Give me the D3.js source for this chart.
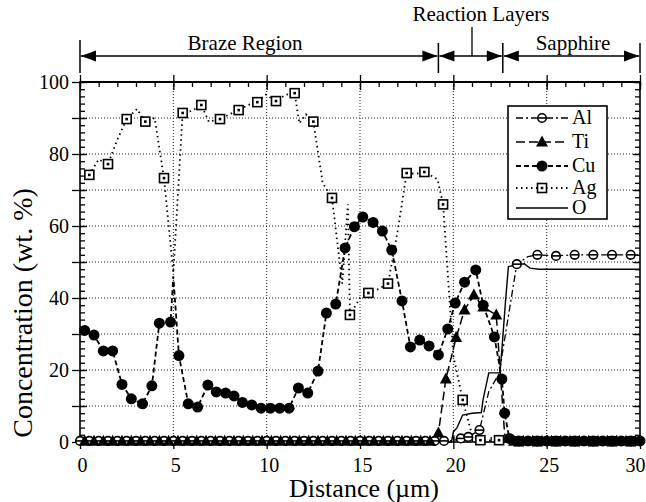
<!DOCTYPE html>
<html><head><meta charset="utf-8">
<script src="https://cdn.jsdelivr.net/npm/d3@7"></script>
</head><body style="margin:0;background:#fff">
<svg id="chart" width="646" height="502" font-family="Liberation Serif" style="display:block;font-family:'Liberation Serif'"></svg>
<script>
// ---------- data ----------
const xTicks = [0,5,10,15,20,25,30];
const yTicks = [0,20,40,60,80,100];
const regionNames = ["Braze Region","Reaction Layers","Sapphire"];
const regionBounds = [0,19.2,22.65,30];
const reactionPointer = 21.0;
const seriesNames = ["Al","Ti","Cu","Ag","O"];

const alDist = [0,0.5,1,1.5,2,2.5,3,3.5,4,4.5,5,5.5,6,6.5,7,7.5,8,8.5,9,9.5,10,10.5,11,11.5,12,12.5,13,13.5,14,14.5,15,15.5,16,16.5,17,17.5,18,18.5,19,19.5,20,20.4,20.8,21.4,21.9,22.45,23.4,24,24.5,25.5,26.5,27.5,28.5,29.5,30];
const alConc = [0.3,0.3,0.3,0.3,0.3,0.3,0.3,0.3,0.3,0.3,0.3,0.3,0.3,0.3,0.3,0.3,0.3,0.3,0.3,0.3,0.3,0.3,0.3,0.3,0.3,0.3,0.3,0.3,0.3,0.3,0.3,0.3,0.3,0.3,0.3,0.3,0.3,0.3,0.3,0.3,0.4,1,1.4,3.3,14,19,49.4,51.5,52,51.7,52,52,52,52,52];
const alMark = [1,1,1,1,1,1,1,1,1,1,1,1,1,1,1,1,1,1,1,1,1,1,1,1,1,1,1,1,1,1,1,1,1,1,1,1,1,1,1,1,0,1,1,1,0,0,1,0,1,1,1,1,1,1,0];

const tiDist = [0.25,0.75,1.25,1.75,2.25,2.75,3.25,3.75,4.25,4.75,5.25,5.75,6.25,6.75,7.25,7.75,8.25,8.75,9.25,9.75,10.25,10.75,11.25,11.75,12.25,12.75,13.25,13.75,14.25,14.75,15.25,15.75,16.25,16.75,17.25,17.75,18.25,18.75,19.2,19.6,20.15,20.6,21.1,21.6,22.3,22.75,23.25,23.75,24.25,24.75,25.25,25.75,26.25,26.75,27.25,27.75,28.25,28.75,29.25,29.75];
const tiConc = [0.2,0.2,0.2,0.2,0.2,0.2,0.2,0.2,0.2,0.2,0.2,0.2,0.2,0.2,0.2,0.2,0.2,0.2,0.2,0.2,0.2,0.2,0.2,0.2,0.2,0.2,0.2,0.2,0.2,0.2,0.2,0.2,0.2,0.2,0.2,0.2,0.2,0.2,2.5,17.5,29,36.7,40.8,37.5,35.3,2,0.2,0.2,0.2,0.2,0.2,0.2,0.2,0.2,0.2,0.2,0.2,0.2,0.2,0.2];
const tiMark = [1,1,1,1,1,1,1,1,1,1,1,1,1,1,1,1,1,1,1,1,1,1,1,1,1,1,1,1,1,1,1,1,1,1,1,1,1,1,1,1,1,1,1,1,1,0,1,1,1,1,1,1,1,1,1,1,1,1,1,1];

const cuDist = [0.25,0.75,1.25,1.75,2.25,2.75,3.35,3.85,4.25,4.85,5.0,5.3,5.8,6.3,6.85,7.3,7.8,8.25,8.7,9.2,9.7,10.2,10.7,11.2,11.7,12.2,12.75,13.2,13.7,14.2,14.7,15.15,15.7,16.2,16.7,17.25,17.7,18.2,18.7,19.2,19.7,20.1,20.6,21.2,21.6,22.2,22.6,22.75,23.0,23.5,24,24.5,25,25.5,26,26.5,27,27.5,28,28.5,29,29.5,30];
const cuConc = [31,29.7,25.3,25.3,16,12,10.6,15.6,33,33.3,46,24,10.6,9.7,15.8,13.9,13.6,12.8,11,10.3,9.4,9.4,9.4,9.4,15,13.6,19.7,35.8,38.3,53.9,59.8,62.5,61,58.6,53.3,39.2,26.4,28.3,26.7,24.2,31.4,38.6,44.4,47.8,38,29.2,17.5,8,1,0.3,0.3,0.3,0.3,0.3,0.3,0.3,0.3,0.3,0.3,0.3,0.3,0.3,0.3];
const cuMark = [1,1,1,1,1,1,1,1,1,1,0,1,1,1,1,1,1,1,1,1,1,1,1,1,1,1,1,1,1,1,1,1,1,1,1,1,1,1,1,1,1,1,1,1,1,1,1,1,1,1,1,1,1,1,1,1,1,1,1,1,1,1,1];

const agDist = [0.5,1,1.5,2,2.5,3.05,3.5,4,4.5,5,5.5,6,6.5,6.9,7.5,8,8.5,9,9.5,9.95,10.5,11,11.5,11.75,12.1,12.5,13,13.5,14.05,14.35,14.46,15,15.45,16,16.5,17,17.5,18,18.45,19.15,19.45,20,20.5,21,21.45,22,22.45,23,23.5,24.5,25.5,26.5,27.5,28.5,29.5];
const agConc = [74.2,78.5,77.2,84,89.7,92.5,89,90,73.3,47,91.4,92,93.6,89,89.7,91,92.2,93.6,94.4,96.5,94.7,96.4,96.9,88.5,91,89,72,67.8,44,66,35.3,40,41.4,42.5,44,58,74.7,74.5,75,73,66,24,11.7,2,0.5,0.4,0.5,0.3,0.2,0.2,0.2,0.2,0.2,0.2,0.2];
const agMark = [1,0,1,0,1,0,1,0,1,0,1,0,1,0,1,0,1,0,1,0,1,0,1,0,0,1,0,1,0,0,1,0,1,0,1,0,1,0,1,0,1,0,1,0,1,0,1,0,1,1,1,1,1,1,1];

const oDist = [0,19.9,20,20.2,20.5,21,21.5,21.6,21.9,22.5,22.6,22.8,22.95,23.4,23.8,24.1,24.6,30];
const oConc = [0,0,2.8,4,7.5,8,8.2,12,19.2,19.2,25.6,39.4,48.7,49.2,49.5,48.3,48,48];

// ---------- chart ----------
const FONT = "Liberation Serif";
const svg = d3.select("#chart");
const x = d3.scaleLinear().domain([0,30]).range([80,640]);
const y = d3.scaleLinear().domain([0,100]).range([442,82]);

function txt(g){ return g.append("text").attr("font-family",FONT).style("font-family",FONT).attr("fill","#000"); }

const styles = {
  Al:{dash:"7,3,2,3", w:1.3, marker:"alc"},
  Ti:{dash:"9,4", w:1.5, marker:"tri"},
  Cu:{dash:"5,3", w:1.8, marker:"dot"},
  Ag:{dash:"1.5,3.5", w:1.8, marker:"sq"},
  O:{dash:null, w:1.4, marker:null}
};
const build = (d,c,m) => d.map((v,i)=>({x:v,y:c[i],m:m?m[i]:0}));
const series = {
  Al: build(alDist, alConc, alMark),
  Ti: build(tiDist, tiConc, tiMark),
  Cu: build(cuDist, cuConc, cuMark),
  Ag: build(agDist, agConc, agMark),
  O:  build(oDist, oConc, null)
};

// grid
const grid = svg.append("g").attr("stroke","#222").attr("stroke-width",1).attr("stroke-dasharray","1,2");
grid.selectAll("line.gx").data([5,10,15,20,25]).join("line")
  .attr("x1",d=>x(d)).attr("x2",d=>x(d)).attr("y1",y(100)).attr("y2",y(0));
grid.selectAll("line.gy").data([10,20,30,40,50,60,70,80,90]).join("line")
  .attr("y1",d=>y(d)).attr("y2",d=>y(d)).attr("x1",x(0)).attr("x2",x(30));

// axes
const minorX = d3.range(0,31,1), minorY = d3.range(0,101,2);
const majX = xTicks, majY = d3.range(0,101,10);
function styleAxis(g){ g.attr("font-family",FONT); g.selectAll("path.domain").remove(); g.selectAll("line").attr("stroke","#000").attr("stroke-width",1.3); }
// bottom
svg.append("g").attr("transform",`translate(0,${y(0)})`)
  .call(d3.axisBottom(x).tickValues(majX).tickSize(7).tickPadding(9).tickFormat(d3.format("d")))
  .call(styleAxis).call(g=>g.selectAll("text").attr("font-size",20).attr("fill","#000").attr("font-family",FONT).style("font-family",FONT)
    .attr("dx",d=>d===30?-5:2));
svg.append("g").attr("transform",`translate(0,${y(0)})`)
  .call(d3.axisTop(x).tickValues(minorX).tickSize(5).tickFormat(""))
  .call(styleAxis);
svg.append("g").attr("transform",`translate(0,${y(0)})`)
  .call(d3.axisTop(x).tickValues(majX).tickSize(7).tickFormat(""))
  .call(styleAxis);
// top
svg.append("g").attr("transform",`translate(0,${y(100)})`)
  .call(d3.axisBottom(x).tickValues(minorX).tickSize(5).tickFormat(""))
  .call(styleAxis);
svg.append("g").attr("transform",`translate(0,${y(100)})`)
  .call(d3.axisBottom(x).tickValues(majX).tickSize(8).tickFormat(""))
  .call(styleAxis);
svg.append("g").attr("transform",`translate(0,${y(100)})`)
  .call(d3.axisTop(x).tickValues(majX).tickSize(7).tickFormat(""))
  .call(styleAxis);
// left
svg.append("g").attr("transform",`translate(${x(0)},0)`)
  .call(d3.axisLeft(y).tickValues(majY).tickSize(8).tickPadding(3).tickFormat(d=>yTicks.includes(d)?d:""))
  .call(styleAxis).call(g=>g.selectAll("text").attr("font-size",20).attr("fill","#000").attr("font-family",FONT).style("font-family",FONT));
svg.append("g").attr("transform",`translate(${x(0)},0)`)
  .call(d3.axisRight(y).tickValues(minorY).tickSize(5).tickFormat(""))
  .call(styleAxis);
svg.append("g").attr("transform",`translate(${x(0)},0)`)
  .call(d3.axisRight(y).tickValues(majY).tickSize(7).tickFormat(""))
  .call(styleAxis);
// right
svg.append("g").attr("transform",`translate(${x(30)},0)`)
  .call(d3.axisLeft(y).tickValues(minorY).tickSize(5).tickFormat(""))
  .call(styleAxis);
svg.append("g").attr("transform",`translate(${x(30)},0)`)
  .call(d3.axisLeft(y).tickValues(majY).tickSize(7).tickFormat(""))
  .call(styleAxis);

// frame
svg.append("rect").attr("x",x(0)).attr("y",y(100)).attr("width",x(30)-x(0)).attr("height",y(0)-y(100))
  .attr("fill","none").attr("stroke","#000").attr("stroke-width",1.6);
svg.append("line").attr("x1",x(0)).attr("x2",x(30)).attr("y1",y(100)).attr("y2",y(100)).attr("stroke","#000").attr("stroke-width",2.2);

// lines
const line = d3.line().x(d=>x(d.x)).y(d=>y(d.y));
const plot = svg.append("g");
["O","Al","Ti","Cu","Ag"].forEach(k=>{
  const s = styles[k];
  plot.append("path").datum(series[k]).attr("d",line).attr("fill","none")
    .attr("stroke","#000").attr("stroke-width",s.w).attr("stroke-dasharray",s.dash);
});

// markers
function marker(g, type, cx, cy){
  if(type==="dot"){
    g.append("circle").attr("cx",cx).attr("cy",cy).attr("r",5.5).attr("fill","#000");
  } else if(type==="tri"){
    g.append("path").attr("d",`M${cx},${cy-6.5}L${cx+6},${cy+4.5}L${cx-6},${cy+4.5}Z`).attr("fill","#000");
  } else if(type==="sq"){
    g.append("rect").attr("x",cx-4.5).attr("y",cy-4.5).attr("width",9).attr("height",9)
      .attr("fill","#fff").attr("stroke","#000").attr("stroke-width",1.6);
    g.append("rect").attr("x",cx-1.3).attr("y",cy-1.3).attr("width",2.6).attr("height",2.6).attr("fill","#000");
  } else if(type==="alc"){
    g.append("circle").attr("cx",cx).attr("cy",cy).attr("r",4.3).attr("fill","#fff").attr("stroke","#000").attr("stroke-width",1.6);
    g.append("line").attr("x1",cx-4.3).attr("x2",cx+4.3).attr("y1",cy).attr("y2",cy).attr("stroke","#000").attr("stroke-width",1.6);
  }
}
const mg = svg.append("g");
["Al","Ti","Ag","Cu"].forEach(k=>{
  series[k].forEach(d=>{ if(d.m) marker(mg, styles[k].marker, x(d.x), y(d.y)); });
});

// legend
const lg = svg.append("g");
lg.append("rect").attr("x",508).attr("y",106).attr("width",99).attr("height",113)
  .attr("fill","#fff").attr("stroke","#000").attr("stroke-width",1.6);
const rowsY = [118,142,166,188,208];
seriesNames.forEach((k,i)=>{
  const s = styles[k], ry = rowsY[i];
  lg.append("line").attr("x1",516).attr("x2",568).attr("y1",ry).attr("y2",ry)
    .attr("stroke","#000").attr("stroke-width",s.w).attr("stroke-dasharray",s.dash);
  if(s.marker) marker(lg, s.marker, 542, ry);
  txt(lg).attr("x",572).attr("y",ry+6).attr("font-size",20).text(k);
});

// axis titles
txt(svg).attr("x",364).attr("y",497).attr("text-anchor","middle").attr("font-size",26).text("Distance (\u00b5m)");
txt(svg).attr("transform","translate(32,313) rotate(-90)").attr("text-anchor","middle").attr("font-size",28).text("Concentration (wt. %)");

// region annotation
const ay = 56;
const ann = svg.append("g");
regionBounds.forEach((b,i)=>{
  ann.append("line").attr("x1",x(b)).attr("x2",x(b)).attr("y1",i===0?40:43).attr("y2",73)
    .attr("stroke","#000").attr("stroke-width",1.5);
});
function head(px, dir){
  ann.append("path").attr("d",`M${px},${ay}L${px-dir*15},${ay-5.5}L${px-dir*15},${ay+5.5}Z`).attr("fill","#000");
}
for(let i=0;i<3;i++){
  const a = x(regionBounds[i])+1, b = x(regionBounds[i+1])-1;
  ann.append("line").attr("x1",a).attr("x2",b).attr("y1",ay).attr("y2",ay).attr("stroke","#000").attr("stroke-width",1.6);
  head(a,-1); head(b,1);
}
ann.append("line").attr("x1",x(reactionPointer)).attr("x2",x(reactionPointer)).attr("y1",27).attr("y2",ay)
  .attr("stroke","#000").attr("stroke-width",1.3);
txt(ann).attr("x",245).attr("y",50).attr("text-anchor","middle").attr("font-size",21).text(regionNames[0]);
txt(ann).attr("x",481).attr("y",21).attr("text-anchor","middle").attr("font-size",21).text(regionNames[1]);
txt(ann).attr("x",573).attr("y",50).attr("text-anchor","middle").attr("font-size",21).text(regionNames[2]);
</script>
</body></html>
